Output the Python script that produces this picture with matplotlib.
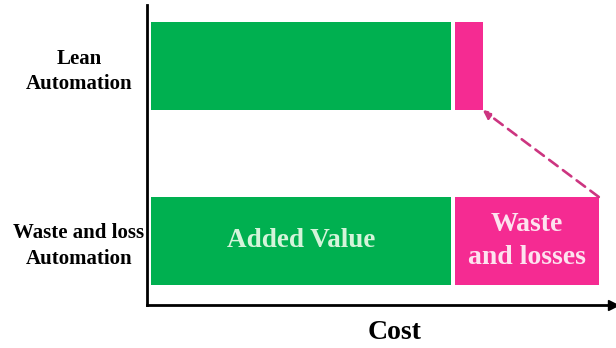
import matplotlib.pyplot as plt

plt.rcParams["font.family"] = ["Liberation Serif", "DejaVu Serif"]

categories = ["Waste and loss\nAutomation", "Lean\nAutomation"]
added_value = [100, 100]
waste = [48, 9.3]
bar_texts = ["Added Value", "Waste\nand losses"]

green = "#00B050"
pink = "#F52B92"
offset = 1.3  # small space between the axis and the bars
gap = 1.3     # white gap between the two segments

fig = plt.figure(figsize=(6.16, 3.48), dpi=100)
ax = fig.add_axes([147 / 616, 43 / 348, 466 / 616, 300 / 348])

ypos = [0, 1]
h = 0.503
ax.barh(ypos, added_value, left=offset, height=h, color=green)
waste_left = [offset + a + gap for a in added_value]
ax.barh(ypos, waste, left=waste_left, height=h, color=pink)

# labels inside the bottom bar
ax.text(offset + added_value[0] / 2, ypos[0], bar_texts[0], ha="center", va="center",
        fontsize=19.5, fontweight="bold", color="#D4F4DA")
ax.text(waste_left[0] + waste[0] / 2, ypos[0], bar_texts[1], ha="center", va="center",
        fontsize=20, fontweight="bold", color="#FDE3EF", linespacing=1.4)

# dashed arrow from the big waste block to the small one
ax.annotate("", xy=(waste_left[1] + waste[1], ypos[1] - h / 2),
            xytext=(waste_left[0] + waste[0], ypos[0] + h / 2),
            arrowprops=dict(arrowstyle="-|>", color="#CC3580", lw=1.9,
                            linestyle=(0, (4, 2.5)), mutation_scale=12,
                            shrinkA=0, shrinkB=0))

ax.set_xlim(0, 466 / 3)
ax.set_ylim(-0.366, 1.349)

ax.set_yticks(ypos, categories, fontsize=15, fontweight="bold")
for lab in ax.get_yticklabels():
    lab.set_ha("center")
    lab.set_multialignment("center")
    lab.set_linespacing(1.35)
ax.tick_params(axis="y", length=0, pad=49)
ax.set_xticks([])

for s in ["top", "right"]:
    ax.spines[s].set_visible(False)
ax.spines["left"].set_linewidth(2)
ax.spines["bottom"].set_linewidth(2)
ax.plot(1, 0, ">k", markersize=7, transform=ax.transAxes, clip_on=False)

fig.text(395 / 616, 9 / 348, "Cost", ha="center", va="baseline",
         fontsize=20, fontweight="bold")

fig.savefig("out.png", dpi=100)
